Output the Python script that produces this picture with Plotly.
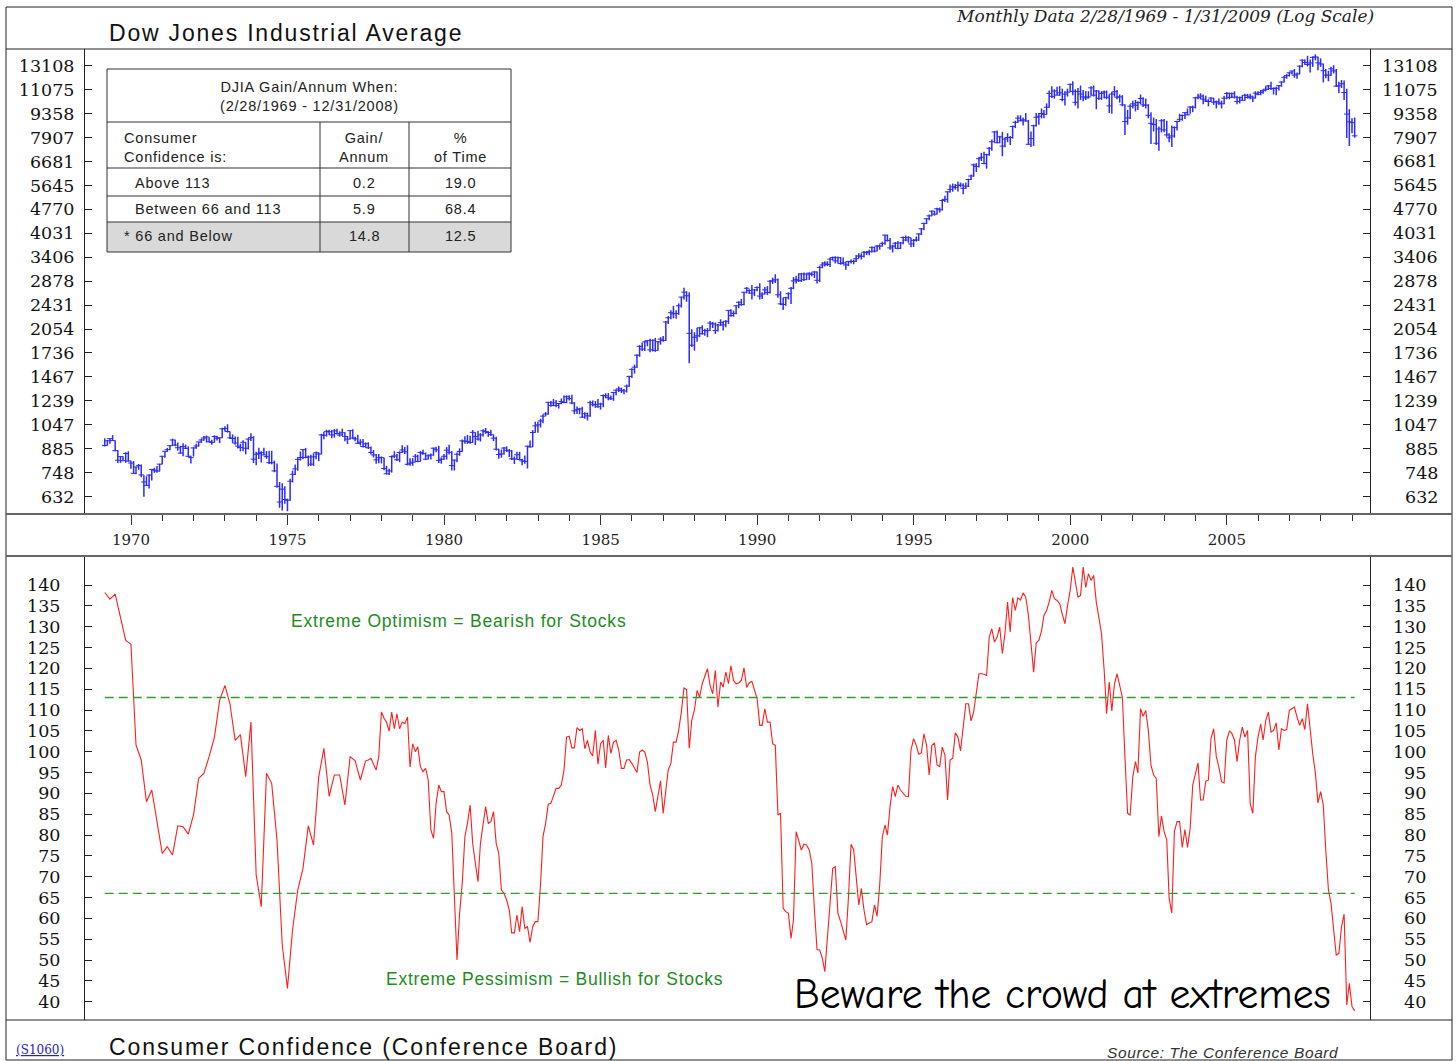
import math
import pandas as pd
import plotly.graph_objects as go

W, H = 1456, 1061

# ---------------- DATA ----------------
# Dow Jones Industrial Average, monthly high / low / close (Feb 1969 - Jan 2009)
djia_high = [
    952, 941, 953, 974, 937, 877, 840, 838, 863, 869, 813,                         # 1969
    811, 778, 795, 792, 734, 729, 740, 765, 774, 783, 796, 842,                    # 1970
    869, 890, 906, 950, 942, 925, 903, 920, 911, 900, 842, 893,                    # 1971
    917, 930, 950, 968, 971, 960, 942, 973, 970, 957, 1025, 1036,                  # 1972
    1051, 997, 979, 964, 962, 917, 940, 927, 953, 987, 967, 866,                   # 1973
    891, 870, 891, 870, 872, 872, 814, 798, 700, 694, 680, 623,                    # 1974
    716, 758, 792, 834, 868, 882, 890, 844, 848, 857, 868, 862,                    # 1975
    983, 995, 1011, 1011, 1008, 1016, 1018, 1000, 1019, 994, 968, 1009,            # 1976
    1015, 963, 976, 946, 948, 925, 926, 899, 877, 853, 852, 838,                   # 1977
    830, 785, 768, 843, 870, 853, 869, 907, 895, 907, 827, 828,                    # 1978
    852, 848, 870, 878, 862, 850, 855, 893, 898, 904, 833, 852,                    # 1979
    895, 910, 871, 820, 862, 887, 945, 966, 975, 969, 1009, 993,                   # 1980
    1004, 987, 1015, 1024, 1000, 1011, 976, 962, 884, 880, 895, 900,               # 1981
    882, 877, 838, 866, 866, 825, 843, 904, 937, 1009, 1070, 1070,                 # 1982
    1092, 1125, 1145, 1232, 1237, 1256, 1246, 1221, 1260, 1287, 1288, 1290,        # 1983
    1294, 1229, 1192, 1180, 1188, 1143, 1141, 1241, 1243, 1237, 1255, 1223,        # 1984
    1296, 1307, 1309, 1288, 1320, 1344, 1372, 1360, 1346, 1390, 1480, 1559,        # 1985
    1600, 1720, 1835, 1870, 1890, 1900, 1920, 1910, 1930, 1890, 1940, 1955,        # 1986
    2175, 2250, 2345, 2420, 2345, 2460, 2580, 2746, 2680, 2660, 2050, 2010,        # 1987
    2070, 2085, 2110, 2060, 2070, 2175, 2160, 2150, 2130, 2200, 2170, 2190,        # 1988
    2350, 2360, 2340, 2430, 2500, 2540, 2670, 2760, 2720, 2800, 2720, 2770,        # 1989
    2835, 2660, 2760, 2780, 2900, 2950, 3020, 2930, 2680, 2560, 2580, 2660,        # 1990
    2760, 2960, 2990, 3040, 3050, 3060, 3040, 3060, 3060, 3090, 3080, 3200,        # 1991
    3290, 3310, 3310, 3390, 3420, 3430, 3420, 3410, 3400, 3300, 3320, 3350,        # 1992
    3350, 3460, 3500, 3500, 3560, 3560, 3590, 3670, 3660, 3710, 3730, 3800,        # 1993
    3990, 3990, 3900, 3720, 3790, 3820, 3790, 3940, 3970, 3950, 3900, 3870,        # 1994
    3940, 4030, 4180, 4340, 4480, 4600, 4730, 4720, 4820, 4830, 5120, 5250,        # 1995
    5420, 5680, 5720, 5700, 5800, 5760, 5730, 5760, 5920, 6100, 6580, 6600,        # 1996
    6880, 7100, 7150, 7050, 7400, 7800, 8280, 8300, 8000, 8230, 7900, 8150,        # 1997
    7990, 8600, 8900, 9250, 9250, 9100, 9400, 8950, 8250, 8650, 9400, 9400,        # 1998
    9700, 9600, 10050, 11000, 11350, 11100, 11300, 11350, 11150, 10950, 11150, 11550,   # 1999
    11750, 11100, 11200, 11400, 11050, 10950, 10950, 11350, 11400, 11050, 11000, 10950, # 2000
    11000, 11000, 10700, 10900, 11350, 11050, 10700, 10650, 10000, 9600, 10000, 10250,  # 2001
    10300, 10200, 10700, 10500, 10400, 10000, 9450, 9100, 9000, 8550, 9000, 9000,       # 2002
    8900, 8150, 8600, 8550, 8900, 9350, 9300, 9450, 9700, 9850, 9900, 10500,            # 2003
    10750, 10800, 10700, 10600, 10350, 10500, 10450, 10250, 10400, 10250, 10600, 10900, # 2004
    10850, 10850, 10950, 10600, 10550, 10650, 10750, 10750, 10750, 10600, 10950, 10950, # 2005
    11050, 11100, 11350, 11450, 11700, 11250, 11300, 11450, 11750, 12200, 12350, 12550, # 2006
    12650, 12800, 12500, 13150, 13700, 13700, 14050, 13700, 14000, 14200, 13950, 13800, # 2007
    13300, 12800, 12650, 13000, 13150, 12800, 11700, 11850, 11800, 11150, 9650, 9050,   # 2008
    9100,                                                                                # 2009
]
djia_low = [
    899, 904, 917, 937, 869, 801, 801, 811, 802, 807, 769,                         # 1969
    744, 740, 763, 724, 631, 682, 669, 707, 747, 747, 754, 794,                    # 1970
    830, 865, 876, 903, 900, 873, 855, 839, 883, 836, 797, 838,                    # 1971
    884, 899, 922, 936, 925, 926, 910, 924, 938, 921, 955, 1000,                   # 1972
    991, 947, 922, 910, 886, 869, 870, 851, 880, 935, 800, 788,                    # 1973
    823, 803, 846, 824, 795, 793, 750, 672, 584, 573, 601, 570,                    # 1974
    614, 698, 735, 758, 814, 822, 827, 782, 784, 784, 822, 810,                    # 1975
    851, 946, 964, 975, 953, 957, 978, 963, 970, 932, 915, 944,                    # 1976
    950, 932, 915, 905, 893, 891, 883, 851, 832, 796, 799, 798,                    # 1977
    760, 738, 736, 748, 828, 812, 805, 860, 853, 787, 785, 785,                    # 1978
    805, 804, 808, 848, 817, 822, 820, 843, 863, 800, 796, 818,                    # 1979
    820, 850, 759, 759, 805, 842, 866, 917, 915, 917, 924, 908,                    # 1980
    937, 931, 964, 983, 962, 967, 934, 874, 824, 831, 850, 865,                    # 1981
    835, 818, 795, 822, 816, 788, 796, 770, 893, 896, 990, 990,                    # 1982
    1027, 1059, 1113, 1123, 1188, 1194, 1185, 1174, 1211, 1219, 1218, 1242,        # 1983
    1211, 1128, 1130, 1128, 1101, 1092, 1079, 1108, 1192, 1180, 1180, 1165,        # 1984
    1184, 1263, 1244, 1246, 1240, 1290, 1318, 1310, 1298, 1314, 1368, 1455,        # 1985
    1502, 1565, 1690, 1760, 1760, 1820, 1745, 1755, 1750, 1765, 1840, 1880,        # 1986
    1890, 2130, 2200, 2215, 2210, 2270, 2390, 2530, 2490, 1616, 1810, 1766,        # 1987
    1880, 1940, 1975, 1960, 1940, 2030, 2070, 1985, 2020, 2100, 2035, 2080,        # 1988
    2130, 2240, 2240, 2280, 2380, 2420, 2430, 2640, 2630, 2530, 2590, 2680,        # 1989
    2530, 2540, 2620, 2610, 2640, 2820, 2840, 2560, 2430, 2350, 2420, 2530,        # 1990
    2450, 2720, 2830, 2860, 2860, 2880, 2900, 2900, 2980, 2940, 2830, 2860,        # 1991
    3150, 3190, 3200, 3180, 3330, 3260, 3260, 3230, 3240, 3120, 3200, 3260,        # 1992
    3240, 3290, 3380, 3350, 3400, 3460, 3450, 3520, 3520, 3550, 3590, 3670,        # 1993
    3720, 3800, 3590, 3520, 3620, 3600, 3610, 3730, 3810, 3770, 3650, 3660,        # 1994
    3800, 3820, 3980, 4120, 4300, 4420, 4540, 4560, 4600, 4660, 4730, 5020,        # 1995
    5000, 5370, 5400, 5480, 5410, 5570, 5300, 5500, 5580, 5860, 6000, 6200,        # 1996
    6400, 6700, 6550, 6350, 6950, 7200, 7640, 7600, 7600, 6930, 7380, 7650,        # 1997
    7500, 7850, 8450, 8750, 8850, 8600, 8850, 7500, 7400, 7450, 8550, 8650,        # 1998
    9050, 9050, 9300, 9750, 10450, 10400, 10650, 10600, 10200, 9900, 10550, 10900,      # 1999
    10650, 9900, 9700, 10300, 10200, 10300, 10400, 10600, 10550, 9650, 10300, 10300,    # 2000
    10400, 10350, 9400, 9350, 10550, 10350, 10100, 9850, 8050, 8650, 9000, 9700,        # 2001
    9500, 9600, 10000, 9800, 9700, 9050, 7550, 8250, 7500, 7200, 8200, 8200,            # 2002
    7950, 7650, 7400, 7900, 8300, 8850, 8900, 9000, 9250, 9350, 9450, 9700,             # 2003
    10350, 10350, 10000, 10150, 9850, 10150, 9950, 9700, 9950, 9700, 10000, 10350,      # 2004
    10350, 10450, 10400, 10000, 10050, 10250, 10250, 10400, 10350, 10150, 10400, 10650, # 2005
    10650, 10750, 10950, 11050, 11050, 10700, 10650, 11000, 11300, 11650, 11950, 12150, # 2006
    12350, 12050, 11950, 12350, 12950, 13200, 13050, 12500, 13000, 13600, 12700, 13000, # 2007
    11650, 12000, 11750, 12200, 12400, 11300, 10800, 11200, 10300, 7880, 7450, 8150,    # 2008
    7900,                                                                                # 2009
]
djia_close = [
    905, 936, 950, 937, 873, 816, 837, 813, 856, 812, 800,                         # 1969
    744, 778, 786, 736, 700, 684, 735, 765, 761, 756, 794, 839,                    # 1970
    869, 879, 904, 941, 908, 891, 858, 898, 887, 839, 831, 890,                    # 1971
    902, 928, 941, 954, 961, 929, 925, 964, 953, 956, 1018, 1020,                  # 1972
    999, 955, 951, 921, 901, 892, 926, 888, 947, 957, 822, 851,                    # 1973
    856, 861, 847, 837, 802, 802, 757, 679, 608, 666, 619, 616,                    # 1974
    704, 739, 768, 821, 832, 879, 832, 835, 794, 836, 860, 852,                    # 1975
    975, 973, 1000, 997, 975, 1003, 985, 974, 990, 965, 947, 1005,                 # 1976
    954, 948, 919, 927, 899, 916, 891, 862, 847, 818, 830, 831,                    # 1977
    770, 742, 757, 837, 841, 819, 862, 877, 866, 793, 799, 805,                    # 1978
    839, 809, 862, 855, 822, 842, 846, 888, 878, 815, 822, 839,                    # 1979
    876, 863, 786, 817, 851, 868, 935, 933, 932, 925, 993, 964,                    # 1980
    947, 975, 1004, 998, 992, 977, 953, 882, 850, 853, 889, 875,                   # 1981
    871, 824, 823, 848, 820, 812, 809, 901, 896, 992, 1039, 1047,                  # 1982
    1076, 1113, 1130, 1226, 1200, 1222, 1199, 1216, 1233, 1225, 1276, 1259,        # 1983
    1221, 1155, 1165, 1171, 1105, 1132, 1115, 1224, 1207, 1207, 1189, 1212,        # 1984
    1287, 1284, 1267, 1258, 1315, 1336, 1348, 1334, 1329, 1375, 1472, 1547,        # 1985
    1571, 1709, 1819, 1784, 1877, 1893, 1775, 1898, 1768, 1878, 1914, 1896,        # 1986
    2158, 2224, 2305, 2286, 2292, 2419, 2572, 2663, 2596, 1994, 1834, 1939,        # 1987
    1958, 2072, 1988, 2032, 2031, 2142, 2129, 2032, 2113, 2149, 2115, 2169,        # 1988
    2342, 2258, 2294, 2419, 2480, 2440, 2661, 2737, 2693, 2645, 2706, 2753,        # 1989
    2591, 2627, 2707, 2657, 2877, 2881, 2905, 2614, 2453, 2442, 2560, 2634,        # 1990
    2736, 2882, 2914, 2888, 3028, 2907, 3025, 3044, 3017, 3069, 2895, 3169,        # 1991
    3224, 3267, 3236, 3359, 3397, 3319, 3394, 3257, 3272, 3226, 3306, 3301,        # 1992
    3310, 3371, 3435, 3428, 3527, 3516, 3540, 3651, 3555, 3681, 3684, 3754,        # 1993
    3978, 3832, 3636, 3682, 3758, 3625, 3765, 3913, 3843, 3908, 3739, 3834,        # 1994
    3844, 4011, 4158, 4321, 4465, 4556, 4709, 4611, 4789, 4756, 5075, 5117,        # 1995
    5395, 5486, 5587, 5569, 5643, 5655, 5529, 5616, 5882, 6029, 6522, 6448,        # 1996
    6813, 6878, 6584, 7009, 7331, 7673, 8223, 7622, 7945, 7442, 7823, 7908,        # 1997
    7907, 8546, 8800, 9063, 8900, 8952, 8883, 7539, 7843, 8592, 9117, 9181,        # 1998
    9359, 9307, 9786, 10789, 10560, 10971, 10655, 10829, 10337, 10729, 10878, 11497,    # 1999
    10941, 10128, 10922, 10734, 10522, 10448, 10522, 11215, 10651, 10971, 10415, 10787, # 2000
    10887, 10495, 9879, 10735, 10912, 10502, 10523, 9950, 8848, 9075, 9852, 10022,      # 2001
    9920, 10106, 10404, 9946, 9925, 9243, 8737, 8664, 7592, 8397, 8896, 8342,           # 2002
    8054, 7891, 7992, 8480, 8850, 8985, 9234, 9416, 9275, 9801, 9782, 10454,            # 2003
    10488, 10584, 10358, 10226, 10188, 10435, 10140, 10174, 10080, 10027, 10428, 10783, # 2004
    10490, 10766, 10504, 10193, 10467, 10275, 10641, 10482, 10569, 10440, 10806, 10718, # 2005
    10865, 10993, 11109, 11367, 11168, 11150, 11186, 11381, 11679, 12081, 12222, 12463, # 2006
    12622, 12269, 12354, 13063, 13628, 13409, 13212, 13358, 13896, 13930, 13372, 13265, # 2007
    12650, 12266, 12263, 12820, 12638, 11350, 11378, 11544, 10851, 9325, 8829, 8776,    # 2008
    8001,                                                                                # 2009
]

# Conference Board Consumer Confidence (bi-monthly survey until mid-1977 -> None)
N = None
cc_index = [
    138.2, N, 136.6, N, 137.8, N, 132.0, N, 126.7, N, 125.8,                     # 1969
    N, 101.6, N, 98.0, N, 88.0, N, 90.8, N, 83.0, N, 75.6,                        # 1970
    N, 77.2, N, 75.2, N, 82.2, N, 82.0, N, 80.2, N, 84.8,                         # 1971
    N, 93.6, N, 94.8, N, 98.8, N, 103.5, N, 112.3, N, 115.9,                      # 1972
    N, 111.5, N, 102.7, N, 104.1, N, 94.0, N, 107.1, N, 70.4,                     # 1973
    N, 62.8, N, 94.8, N, 92.4, N, 78.8, N, 53.6, N, 43.2,                         # 1974
    N, 57.2, N, 66.8, N, 72.0, N, 82.2, N, 77.6, N, 94.0,                         # 1975
    N, 100.8, N, 89.3, N, 94.4, N, 94.4, N, 87.2, N, 98.8,                        # 1976
    N, 97.8, N, 93.2, N, 97.8, 98.0, 98.4, 97.0, 95.6, 98.8, 109.5,               # 1977
    108.0, 107.1, 104.9, 109.5, 105.5, 109.1, 105.5, 107.1, 106.7, 108.3, 96.3, 101.9,   # 1978
    100.0, 101.2, 96.4, 95.2, 96.0, 93.2, 81.2, 79.2, 87.6, 92.0, 90.4, 90.4,            # 1979
    85.6, 84.8, 80.4, 66.0, 50.0, 61.2, 68.4, 79.6, 82.8, 87.2, 78.0, 73.2,              # 1980
    68.8, 78.0, 82.0, 86.8, 82.8, 83.2, 85.6, 78.0, 75.6, 66.8, 66.0, 64.4,              # 1981
    62.0, 56.5, 56.5, 60.8, 56.8, 62.8, 57.6, 58.0, 54.2, 58.0, 59.2, 59.2,              # 1982
    68.4, 79.6, 82.8, 87.4, 87.6, 89.2, 91.2, 91.2, 92.0, 95.6, 103.5, 103.7,            # 1983
    100.9, 100.9, 105.8, 105.1, 105.5, 100.7, 102.7, 99.9, 99.0, 105.1, 97.0, 101.9,     # 1984
    102.7, 96.1, 103.9, 99.6, 102.3, 102.7, 100.4, 96.0, 96.0, 98.0, 98.1, 97.2,         # 1985
    96.0, 95.0, 99.9, 100.4, 99.9, 97.5, 92.0, 89.6, 85.6, 89.2, 93.0, 85.2,             # 1986
    91.6, 95.6, 97.2, 102.3, 102.3, 105.1, 109.5, 115.3, 114.9, 100.8, 107.6, 110.0,     # 1987
    114.7, 113.1, 116.3, 118.3, 119.9, 115.9, 113.9, 119.5, 110.7, 116.7, 115.5, 119.1,  # 1988
    116.3, 120.6, 117.1, 116.3, 116.5, 117.1, 120.1, 115.4, 116.5, 116.9, 115.1, 112.7,  # 1989
    106.3, 106.3, 110.3, 107.1, 107.1, 101.9, 101.5, 84.8, 85.2, 62.4, 61.6, 61.2,       # 1990
    55.2, 59.6, 80.8, 78.8, 76.4, 77.8, 77.6, 76.4, 73.2, 62.0, 52.5, 52.4,              # 1991
    50.4, 47.2, 55.6, 62.4, 72.0, 72.4, 61.2, 59.2, 57.2, 54.8, 64.8, 77.8,              # 1992
    76.4, 69.2, 63.2, 67.2, 62.0, 58.5, 58.8, 59.2, 63.2, 60.5, 68.0, 79.6,              # 1993
    82.4, 80.0, 86.8, 91.6, 89.2, 92.0, 90.8, 90.0, 89.3, 89.2, 100.4, 103.1,            # 1994
    101.5, 99.4, 99.7, 104.3, 101.5, 94.4, 101.5, 102.1, 96.8, 96.4, 101.1, 99.2,        # 1995
    88.4, 98.0, 98.4, 104.5, 103.5, 100.2, 105.9, 111.5, 111.5, 107.4, 109.5, 114.3,     # 1996
    118.7, 118.7, 118.6, 118.3, 127.5, 129.5, 126.3, 127.5, 129.9, 123.5, 128.3, 135.9,  # 1997
    128.7, 137.0, 133.9, 136.9, 136.4, 138.1, 137.1, 132.7, 125.5, 119.1, 126.1, 126.7,  # 1998
    129.0, 132.7, 133.9, 135.9, 138.7, 136.7, 136.3, 135.5, 133.0, 130.7, 135.0, 138.7,  # 1999
    144.3, 141.1, 137.1, 137.5, 144.3, 139.4, 142.7, 141.1, 142.3, 135.9, 132.3, 128.3,  # 2000
    119.5, 109.1, 116.7, 109.8, 116.3, 118.7, 115.9, 113.1, 98.8, 85.2, 84.8, 94.0,      # 2001
    97.6, 94.9, 110.3, 108.5, 109.9, 105.1, 96.7, 94.4, 93.6, 79.6, 84.6, 80.8,          # 2002
    78.8, 64.8, 61.3, 80.8, 83.2, 83.2, 77.0, 81.3, 77.0, 81.6, 92.0, 94.8,              # 2003
    97.3, 88.4, 88.4, 92.9, 93.2, 103.1, 105.5, 98.8, 96.3, 92.8, 92.5, 102.8,           # 2004
    105.0, 104.4, 102.8, 97.6, 102.8, 105.9, 103.5, 105.1, 87.6, 85.2, 98.8, 103.5,      # 2005
    106.7, 102.8, 107.5, 109.5, 104.7, 105.1, 106.9, 100.4, 105.5, 105.1, 105.3, 109.9,  # 2006
    110.3, 110.7, 108.3, 106.3, 107.9, 105.3, 111.5, 105.1, 99.5, 94.8, 87.7, 90.4,      # 2007
    87.2, 76.4, 66.8, 63.6, 58.0, 51.2, 51.6, 58.0, 61.0, 39.2, 44.4, 38.8,              # 2008
    37.8,                                                                                 # 2009
]

djia_ticks = [632, 748, 885, 1047, 1239, 1467, 1736, 2054, 2431, 2878, 3406,
              4031, 4770, 5645, 6681, 7907, 9358, 11075, 13108]
cc_ticks = list(range(40, 145, 5))
label_years = [1970, 1975, 1980, 1985, 1990, 1995, 2000, 2005]
minor_years = list(range(1970, 2010))

optimism_level = 113
pessimism_level = 66

tbl_title = "DJIA Gain/Annum When:<br>(2/28/1969 - 12/31/2008)"
tbl_head = ["Consumer<br>Confidence is:", "Gain/<br>Annum", "%<br>of Time"]
tbl_rows = ["Above 113", "Between 66 and 113", "* 66 and Below"]
tbl_gain = [0.2, 5.9, 14.8]
tbl_time = [19.0, 68.4, 12.5]

# ---------------- FIGURE ----------------
try:
    months = pd.date_range("1969-02-28", "2009-01-31", freq="ME")
except ValueError:
    months = pd.date_range("1969-02-28", "2009-01-31", freq="M")
n = len(months)
djia_high, djia_low, djia_close, cc_index = (djia_high[:n], djia_low[:n],
                                              djia_close[:n], cc_index[:n])


def fx(p):
    return p / W


def fy(p):
    return 1 - p / H


def spaced(text, px):
    return f'<span style="letter-spacing:{px}px">{text}</span>'


BLUE = "#2b2bff"
RED = "#ff1e1e"
GREEN = "#1e8c1e"
SERIF = "DejaVu Serif"
SANS = "Liberation Sans, Arial"

fig = go.Figure()

bx, by = [], []
for d, lo, hi in zip(months, djia_low, djia_high):
    bx += [d, d, None]
    by += [lo, hi, None]
fig.add_trace(go.Scatter(x=bx, y=by, mode="lines", line=dict(color=BLUE, width=1.5),
                         hoverinfo="skip", xaxis="x", yaxis="y", showlegend=False))
fig.add_trace(go.Scatter(x=months, y=djia_close, mode="markers",
                         marker=dict(symbol="line-ew", size=4, line=dict(width=1, color=BLUE)),
                         xaxis="x", yaxis="y", showlegend=False))
fig.add_trace(go.Scatter(x=months, y=cc_index, mode="lines", connectgaps=True,
                         line=dict(color=RED, width=1.1), xaxis="x2", yaxis="y2",
                         showlegend=False))

x_range = ["1968-07-13", "2009-07-29"]
tick_font = dict(family=SERIF, size=17.5, color="#111")

fig.update_layout(
    width=W, height=H,
    margin=dict(l=0, r=0, t=0, b=0),
    paper_bgcolor="white", plot_bgcolor="white",
    xaxis=dict(domain=[fx(85), fx(1370)], type="date", range=x_range, anchor="y",
               tickmode="array", tickvals=[f"{y}-01-01" for y in label_years],
               ticktext=[str(y) for y in label_years],
               ticks="outside", ticklen=10, tickwidth=1, tickcolor="#333",
               minor=dict(tickmode="array", tickvals=[f"{y}-01-01" for y in minor_years],
                          ticks="outside", ticklen=6, tickwidth=1, tickcolor="#333"),
               tickfont=dict(family=SERIF, size=15, color="#222"),
               showgrid=False, zeroline=False, showline=False, ticklabelstandoff=2),
    yaxis=dict(domain=[fy(514), fy(49)], type="log",
               range=[2.7474, 4.1685], anchor="x",
               tickmode="array", tickvals=djia_ticks, ticktext=[str(v) for v in djia_ticks],
               ticks="inside", ticklen=7, tickcolor="#222", mirror="ticks",
               showline=True, linecolor="#222", linewidth=1,
               tickfont=tick_font, showgrid=False, zeroline=False, ticklabelstandoff=6),
    xaxis2=dict(domain=[fx(85), fx(1370)], type="date", range=x_range, anchor="y2",
                showticklabels=False, ticks="", showgrid=False, zeroline=False, showline=False),
    yaxis2=dict(domain=[fy(1020), fy(556)], range=[35.6, 146.96], anchor="x2",
                tickmode="array", tickvals=cc_ticks, ticktext=[str(v) for v in cc_ticks],
                ticks="inside", ticklen=7, tickcolor="#222", mirror="ticks",
                showline=True, linecolor="#222", linewidth=1,
                tickfont=tick_font, showgrid=False, zeroline=False, ticklabelstandoff=20),
)

shapes = []


def pline(x0, y0, x1, y1, color="#222", width=1):
    shapes.append(dict(type="line", xref="paper", yref="paper",
                       x0=fx(x0), y0=fy(y0), x1=fx(x1), y1=fy(y1),
                       line=dict(color=color, width=width)))


# outer frame and separators
shapes.append(dict(type="rect", xref="paper", yref="paper", x0=fx(6), y0=fy(1060),
                   x1=fx(1452), y1=fy(7), line=dict(color="#222", width=1)))
pline(6, 49, 1452, 49)
pline(6, 514, 1452, 514, "#666", 2)
pline(6, 556, 1452, 556, "#666", 2)
pline(6, 1020, 1452, 1020)

# threshold lines
for lvl in (optimism_level, pessimism_level):
    shapes.append(dict(type="line", xref="x2", yref="y2", x0=months[0], x1=months[-1],
                       y0=lvl, y1=lvl, line=dict(color="#2e9e2e", width=1.3, dash="9px,5px")))

# table
tx0, tx1, tcol1, tcol2 = 107, 511, 320, 409
ty = [69, 122, 168, 196, 222, 252]
shapes.append(dict(type="rect", xref="paper", yref="paper", x0=fx(tx0), y0=fy(ty[5]),
                   x1=fx(tx1), y1=fy(ty[4]), fillcolor="#d9d9d9", line=dict(width=0)))
shapes.append(dict(type="rect", xref="paper", yref="paper", x0=fx(tx0), y0=fy(ty[5]),
                   x1=fx(tx1), y1=fy(ty[0]), line=dict(color="#333", width=1)))
for yy in ty[1:5]:
    pline(tx0, yy, tx1, yy, "#333", 1)
for xx in (tcol1, tcol2):
    pline(xx, ty[1], xx, ty[5], "#333", 1)

fig.update_layout(shapes=shapes)

ann = []


def ptext(text, x, y, size, color="#222", family=SANS, xanchor="left", align="left", ls=0):
    if ls:
        text = "<br>".join(spaced(t, ls) for t in text.split("<br>"))
    ann.append(dict(text=text, x=fx(x), y=fy(y), xref="paper", yref="paper",
                    xanchor=xanchor, yanchor="middle", align=align, showarrow=False,
                    font=dict(family=family, size=size, color=color)))


tfs = 14.5
tls = 0.8
ptext(tbl_title, 309, 96, tfs, xanchor="center", align="center", ls=tls)
ptext(tbl_head[0], 122, 148, tfs, ls=tls)
ptext(tbl_head[1], 364, 148, tfs, xanchor="center", align="center", ls=tls)
ptext(tbl_head[2], 460, 148, tfs, xanchor="center", align="center", ls=tls)
row_y = [183, 209, 236]
row_x = [133, 133, 122]
for name, g, t, yy, xx in zip(tbl_rows, tbl_gain, tbl_time, row_y, row_x):
    ptext(name, xx, yy, tfs, ls=tls)
    ptext(f"{g:.1f}", 364, yy, tfs, xanchor="center", ls=tls)
    ptext(f"{t:.1f}", 460, yy, tfs, xanchor="center", ls=tls)

# titles and notes
ptext("Dow Jones Industrial Average", 107, 33, 23, "#111", ls=1.8)
ptext("<i>Monthly Data 2/28/1969 - 1/31/2009 (Log Scale)</i>", 1376, 16, 17, "#222",
      family=SERIF, xanchor="right")
ptext("Consumer Confidence (Conference Board)", 107, 1047, 23, "#111", ls=1.9)
ptext("<u>(S1060)</u>", 14, 1050, 12, "#2222cc", family=SERIF)
ptext("<i>Source: The Conference Board</i>", 1341, 1052, 15.5, "#333", xanchor="right", ls=0.6)
ptext("Extreme Optimism = Bearish for Stocks", 458, 621, 17.5, GREEN, xanchor="center", ls=0.8)
ptext("Extreme Pessimism = Bullish for Stocks", 554, 979, 17.5, GREEN, xanchor="center", ls=0.75)
ptext("Beware the crowd at extremes", 1333, 994, 41.5, "#000",
      family="Comic Sans MS, Comic Neue, Noto Sans", xanchor="right")

# right-hand axis labels (right aligned like the original)
for v in djia_ticks:
    ann.append(dict(text=str(v), x=fx(1440), y=math.log10(v), xref="paper", yref="y",
                    xanchor="right", yanchor="middle", showarrow=False, font=tick_font))
for v in cc_ticks:
    ann.append(dict(text=str(v), x=fx(1428), y=v, xref="paper", yref="y2",
                    xanchor="right", yanchor="middle", showarrow=False, font=tick_font))

fig.update_layout(annotations=ann)

fig.write_html("out.html")
